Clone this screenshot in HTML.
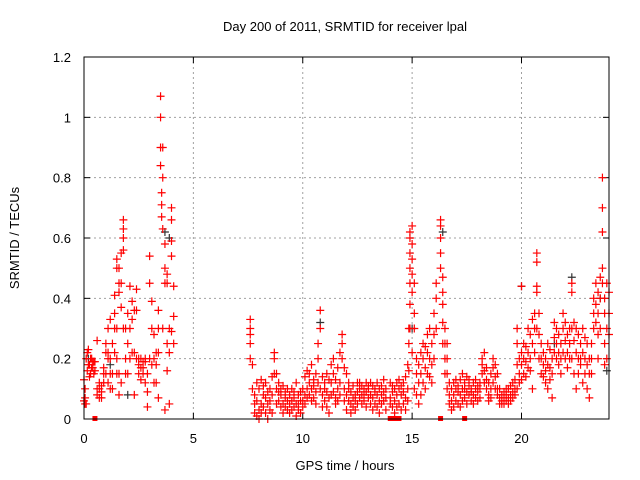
<!DOCTYPE html>
<html><head><meta charset="utf-8"><style>
body{margin:0;background:#fff;}
svg{display:block;font-family:"Liberation Sans",sans-serif;}
</style></head><body>
<svg id="chart" width="640" height="480" viewBox="0 0 640 480">
<text x="345" y="31" font-size="13" text-anchor="middle" fill="#000">Day 200 of 2011, SRMTID for receiver lpal</text>
<text x="345" y="470" font-size="13" text-anchor="middle" fill="#000">GPS time / hours</text>
<text transform="translate(19,238) rotate(-90)" font-size="13" text-anchor="middle" fill="#000">SRMTID / TECUs</text>
<g id="grid"></g><g id="ticks"></g><g id="marks"></g>
<rect x="84" y="57" width="525" height="362" fill="none" stroke="#000" stroke-width="1"/>
</svg>
<script>
const xTicks=[0,5,10,15,20];
const yTicks=[0,0.2,0.4,0.6,0.8,1,1.2];
const yTickLabels=["0","0.2","0.4","0.6","0.8","1","1.2"];
const sampleTimes=[0,0.05,0.1,0.15,0.2,0.25,0.3,0.35,0.4,0.45,0.5,0.6,0.7,0.8,0.9,1.0,1.1,1.2,1.3,1.4,1.5,1.6,1.7,1.8,1.9,2.0,2.1,2.2,2.3,2.4,2.5,2.6,2.7,2.8,2.9,3.0,3.1,3.2,3.3,3.4,3.5,3.55,3.6,3.7,3.8,3.9,4.0,4.1,
7.6,7.7,7.8,7.9,8.0,8.1,8.2,8.3,8.4,8.5,8.6,8.7,8.8,8.9,9.0,9.1,9.2,9.3,9.4,9.5,9.6,9.7,9.8,9.9,10.0,10.1,10.2,10.3,10.4,10.5,10.6,10.7,10.8,10.9,11.0,11.1,11.2,11.3,11.4,11.5,11.6,11.7,11.8,11.9,12.0,12.1,12.2,12.3,12.4,12.5,12.6,12.7,12.8,12.9,13.0,13.1,13.2,13.3,13.4,13.5,13.6,13.7,13.8,14.0,14.1,14.2,14.3,14.4,14.5,14.6,14.7,14.8,14.85,14.9,15.0,15.1,15.2,15.3,15.4,15.5,15.6,15.7,15.8,15.9,16.0,16.1,16.3,16.4,16.5,16.6,16.7,16.8,16.9,17.0,17.1,17.2,17.3,17.4,17.5,17.6,17.7,17.8,17.9,18.0,18.1,18.2,18.3,18.4,18.5,18.6,18.7,18.8,18.9,19.0,19.1,19.2,19.3,19.4,19.5,19.6,19.7,19.8,19.9,20.0,20.1,20.2,20.3,20.4,20.5,20.6,20.7,20.8,20.9,21.0,21.1,21.2,21.3,21.4,21.5,21.6,21.7,21.8,21.9,22.0,22.1,22.2,22.3,22.4,22.5,22.6,22.7,22.8,22.9,23.0,23.1,23.2,23.3,23.4,23.5,23.6,23.7,23.8,23.9,24.0];
const sampleValues=[[.13,.06],[.1,.07,.05],[.2,.05],[.22,.16],[.23,.18],[.18,.14],[.15,.2],[.2,.17],[.17,.19],[.19,.15],[.16,.19],[.26,.08,.1],[.1,.12,.07],[.07,.11,.09],[.17,.15,.12],[.25,.22,.15],[.3,.22,.2,.12],[.33,.2,.15,.1],[.25,.15,.1],[.41,.35,.3,.22],[.53,.5,.3,.2,.15],[.5,.42,.45,.15,.08],[.55,.45,.37,.12],[.66,.63,.6,.56,.3],[.3,.2,.15],[.25,.15,.35],[.3,.44,.2],[.39,.33,.22],[.08,.22,.36],[.43,.36,.2],[.18,.2,.15],[.2,.17,.13],[.17,.15,.19],[.19,.12,.2],[.04,.09,.15],[.54,.45,.2],[.39,.3,.18],[.2,.28,.12],[.22,.12,.18],[.36,.07,.3,.22],[1.07,1.0,.9,.84],[.75,.71,.67],[.9,.8,.63,.3],[.58,.5,.45,.03],[.48,.45,.25,.16],[.22,.05,.3],[.66,.7,.59,.54,.29],[.44,.34,.25],
[.33,.3,.28,.25,.2],[.18,.1],[.02,.08,.05],[.01,.12,.06],[.03,.1,0],[.13,.05,.02],[.11,.04,.08],[.07,.02,.12],[.09,.05,0],[.06,.1,.03],[.14,.08,.02],[.22,.2,.15],[.15,.1,.05],[.12,.06,.09],[.08,.04,.1],[.11,.05,.02],[.07,.09,.04],[.1,.03,.06],[.08,.05,.02],[.06,.1,.03],[.09,.04,.07],[.12,.05,.01],[.05,.08,.03],[.09,.02,.06],[.1,.06,.04],[.14,.08,.05],[.16,.1,.07],[.12,.08,.15],[.18,.1,.06],[.11,.07,.13],[.15,.09,.05],[.25,.2,.12],[.36,.3,.1],[.14,.08,.04],[.12,.06,.1],[.09,.15,.04],[.13,.07,.02],[.18,.12,.08],[.15,.09,.2],[.13,.07,.05],[.17,.1,.06],[.22,.12,.08],[.28,.25,.2],[.17,.1,.06],[.15,.08,.03],[.12,.06,.1],[.09,.05,.02],[.07,.11,.04],[.08,.06,.03],[.09,.12,.05],[.1,.07,.12],[.08,.11,.05],[.1,.06,.08],[.09,.12,.04],[.1,.07,.11],[.12,.05,.08],[.07,.11,.03],[.1,.05,.09],[.12,.08,.04],[.06,.1,.02],[.11,.08,.05],[.13,.09,.06],[.03,.07,.1],[.12,.07,.05],[.09,.04,.11],[.06,.1,.02],[.12,.08,.04],[.1,.05,.13],[.08,.11,.03],[.05,.12,.09],[.14,.07,.03],[.18,.1,.06],[.3,.25,.16],[.62,.6,.55,.5,.45,.38,.3],[.64,.58,.53,.48,.42,.22],[.45,.35,.3,.1],[.2,.15,.08],[.12,.05,.18],[.22,.15,.08],[.25,.2,.12],[.24,.17,.1],[.22,.15,.28],[.2,.14,.3],[.25,.18,.12],[.35,.28,.2],[.45,.4,.3],[.66,.64,.6,.55,.5],[.47,.42,.38,.32,.25],[.3,.25,.2,.15],[.25,.2,.15,.1],[.12,.08,.05],[.1,.06,.03],[.12,.08,.04],[.1,.06,.13],[.09,.05,.11],[.13,.08,.04],[.15,.1,.06],[.12,.07,.1],[.14,.09,.05],[.11,.08,.13],[.1,.06,.09],[.12,.08,.05],[.1,.13,.07],[.09,.06,.11],[.1,.07,.12],[.2,.18,.15],[.22,.16,.12],[.17,.13,.1],[.12,.08,.06],[.15,.1,.07],[.2,.17,.12],[.18,.14,.1],[.15,.1,.08],[.1,.07,.05],[.08,.06,.05],[.07,.05,.09],[.06,.08,.1],[.1,.07,.05],[.08,.06,.11],[.12,.09,.07],[.13,.1,.08],[.3,.25,.18,.1],[.2,.15,.12],[.44,.22,.18,.13],[.25,.2,.15],[.24,.19,.14],[.3,.22,.17],[.28,.2,.16],[.33,.25,.1],[.35,.3,.22],[.55,.52,.44,.42,.3],[.35,.28,.2],[.25,.2,.15],[.22,.18,.14],[.2,.16,.12],[.25,.18,.1],[.23,.17,.13],[.2,.15,.07],[.32,.27,.22],[.3,.25,.2],[.28,.22,.18],[.25,.2,.15],[.35,.3,.22],[.32,.26,.2],[.28,.22,.17],[.3,.25,.2],[.45,.42,.3,.2],[.32,.26,.15],[.3,.22,.1],[.28,.2,.15],[.25,.2,.18],[.3,.22,.12],[.27,.2,.15],[.25,.18,.1],[.2,.15,.07],[.25,.2,.15],[.4,.35,.3],[.45,.38,.32],[.42,.35,.28,.2],[.47,.4,.3],[.8,.7,.62,.5,.45],[.4,.35,.25,.18],[.45,.3,.2],[.42,.35,.28]];
const blackTimes=[0.2,1.2,2.0,3.7,3.9,10.8,15.0,16.4,20.0,21.5,22.3,23.6,23.9];
const blackValues=[0.2,0.18,0.08,0.62,0.6,0.32,0.3,0.62,0.44,0.25,0.47,0.4,0.16];
const zeroTimes=[0.5,14.0,14.2,14.4,16.3,17.4];

const X0=84,X1=609,Y0=419,Y1=57;
const xs=t=>X0+t/24*(X1-X0);
const ys=v=>Y0-v/1.2*(Y0-Y1);
const NS="http://www.w3.org/2000/svg";
const grid=document.getElementById('grid'),ticks=document.getElementById('ticks'),marks=document.getElementById('marks');
function mk(tag,attrs,parent){const e=document.createElementNS(NS,tag);for(const k in attrs)e.setAttribute(k,attrs[k]);parent.appendChild(e);return e;}
xTicks.forEach(t=>{
  const x=xs(t);
  if(t>0){const g=mk('line',{x1:x,x2:x,y1:Y1,y2:Y0,stroke:'#a0a0a0','stroke-dasharray':'2,3'},grid);
  
  }
  mk('line',{x1:x,x2:x,y1:Y0,y2:Y0-6,stroke:'#000'},ticks);
  mk('line',{x1:x,x2:x,y1:Y1,y2:Y1+6,stroke:'#000'},ticks);
  const l=mk('text',{x:x,y:443,'font-size':13,'text-anchor':'middle'},ticks);l.textContent=t;
  
  
});
yTicks.forEach((v,i)=>{
  const y=ys(v);
  if(v>0&&v<1.2){const g=mk('line',{x1:X0,x2:X1,y1:y,y2:y,stroke:'#a0a0a0','stroke-dasharray':'2,3'},grid);
  
  }
  mk('line',{x1:X0,x2:X0+6,y1:y,y2:y,stroke:'#000'},ticks);
  mk('line',{x1:X1,x2:X1-6,y1:y,y2:y,stroke:'#000'},ticks);
  const l=mk('text',{x:71,y:y+5,'font-size':13,'text-anchor':'end'},ticks);l.textContent=yTickLabels[i];
  
  
});
function plus(t,v,color){
  const x=xs(t),y=ys(v);
  const p=mk('path',{d:`M${x-4} ${y}H${x+4}M${x} ${y-4}V${y+4}`,stroke:color,'stroke-width':1.2,fill:'none'},marks);
  
  
}
blackTimes.forEach((t,i)=>plus(t,blackValues[i],'#333'));
sampleTimes.forEach((t,i)=>sampleValues[i].forEach(v=>plus(t,v,'#ff0000')));
zeroTimes.forEach(t=>{
  const r=mk('rect',{x:xs(t)-2.5,y:Y0-3,width:5,height:5,fill:'#ff0000'},marks);
  
  
});
</script>
</body></html>
